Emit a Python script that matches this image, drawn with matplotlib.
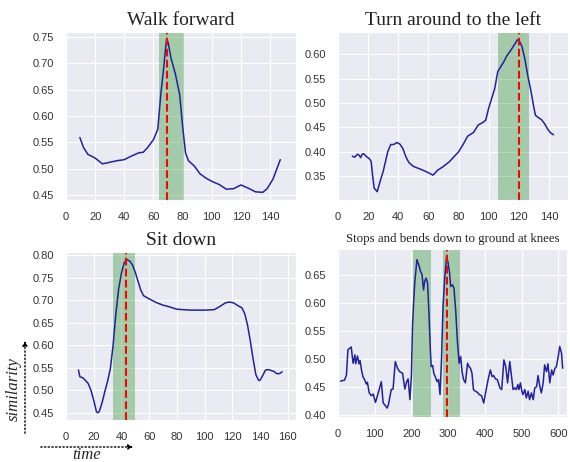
import numpy as np
import matplotlib
matplotlib.use('Agg')
from matplotlib import pyplot as plt
import seaborn as sns

# walk forward
walk_x = [9.5, 12, 15, 18, 20, 25, 30, 35, 40, 45, 50, 53, 56, 60, 63, 65, 67, 68, 69, 70,
          72, 75, 78, 80, 82, 84, 88, 92, 96, 100, 105, 110, 115, 120, 125, 130, 135, 138, 142, 147]
walk_y = [0.559, 0.540, 0.527, 0.523, 0.520, 0.509, 0.512, 0.515, 0.517, 0.524, 0.530, 0.531,
          0.540, 0.555, 0.575, 0.640, 0.690, 0.720, 0.745, 0.740, 0.710, 0.680, 0.640, 0.580,
          0.530, 0.515, 0.505, 0.490, 0.482, 0.476, 0.470, 0.461, 0.462, 0.469, 0.463, 0.456,
          0.455, 0.462, 0.480, 0.517]
walk_span = (64, 81)
walk_best = 69

# turn around to the left
turn_x = [9.5, 11, 13, 14, 15, 16, 17, 19, 21, 22, 23, 24, 25, 26, 28, 30, 33, 35, 37, 39,
          41, 43, 45, 47, 50, 55, 60, 63, 64, 66, 70, 74, 77, 80, 83, 86, 90, 93, 96, 98,
          100, 102, 104, 106, 108, 110, 112, 115, 118, 119, 120, 122, 124, 126, 128, 130,
          131, 133, 135, 137, 139, 141, 143]
turn_y = [0.391, 0.389, 0.395, 0.393, 0.388, 0.395, 0.396, 0.390, 0.385, 0.380, 0.350, 0.325,
          0.322, 0.318, 0.340, 0.360, 0.400, 0.415, 0.415, 0.419, 0.416, 0.407, 0.390, 0.378,
          0.370, 0.364, 0.357, 0.352, 0.355, 0.362, 0.370, 0.380, 0.390, 0.400, 0.415, 0.432,
          0.440, 0.455, 0.460, 0.465, 0.490, 0.510, 0.530, 0.565, 0.575, 0.585, 0.597, 0.610,
          0.625, 0.630, 0.629, 0.617, 0.590, 0.555, 0.525, 0.490, 0.475, 0.470, 0.466, 0.458,
          0.447, 0.439, 0.435]
turn_span = (106, 127)
turn_best = 120

# sit down
sit_x = [9, 10, 12, 14, 16, 18, 20, 22, 23, 24, 26, 28, 30, 32, 34, 36, 38, 40, 42, 44, 46,
         48, 50, 52, 54, 56, 60, 65, 70, 75, 80, 90, 100, 107, 111, 115, 118, 121, 124, 127,
         129, 131, 133, 135, 137, 139, 140, 142, 144, 146, 150, 152, 154, 156]
sit_y = [0.545, 0.530, 0.528, 0.522, 0.515, 0.500, 0.478, 0.452, 0.450, 0.453, 0.472, 0.497,
         0.520, 0.548, 0.600, 0.670, 0.725, 0.760, 0.783, 0.790, 0.787, 0.778, 0.762, 0.742,
         0.722, 0.710, 0.703, 0.695, 0.689, 0.685, 0.680, 0.678, 0.678, 0.679, 0.686, 0.694,
         0.696, 0.694, 0.688, 0.683, 0.670, 0.645, 0.610, 0.570, 0.535, 0.522, 0.522, 0.533,
         0.545, 0.546, 0.542, 0.537, 0.537, 0.541]
sit_span = (34, 50)
sit_best = 43

# stops and bends down
bend_x = [7, 18, 23, 27, 36, 41, 46, 48, 53, 57, 60, 64, 68, 73, 77, 80, 85, 91, 96, 102,
          107, 114, 118, 123, 127, 134, 138, 145, 150, 156, 162, 168, 176, 182, 187, 191,
          196, 200, 203, 206, 209, 215, 220, 225, 229, 233, 236, 240, 244, 247, 252, 254,
          258, 261, 265, 270, 274, 278, 282, 286, 291, 296, 300, 304, 307, 312, 316, 321,
          325, 330, 334, 338, 342, 347, 353, 357, 361, 365, 369, 374, 380, 385, 391, 397,
          402, 409, 415, 420, 424, 429, 434, 441, 446, 452, 457, 462, 468, 473, 477, 482,
          486, 490, 493, 497, 501, 504, 509, 513, 518, 522, 527, 532, 536, 541, 545, 550,
          554, 559, 563, 568, 572, 577, 582, 586, 591, 595, 600, 604, 609, 612]
bend_y = [0.460, 0.462, 0.471, 0.516, 0.521, 0.492, 0.507, 0.491, 0.505, 0.491, 0.497, 0.480,
          0.468, 0.462, 0.455, 0.458, 0.439, 0.434, 0.437, 0.422, 0.433, 0.450, 0.459, 0.421,
          0.418, 0.412, 0.420, 0.445, 0.446, 0.495, 0.483, 0.477, 0.474, 0.446, 0.459, 0.464,
          0.427, 0.470, 0.560, 0.600, 0.635, 0.677, 0.668, 0.656, 0.650, 0.623, 0.638, 0.644,
          0.635, 0.593, 0.510, 0.486, 0.488, 0.474, 0.468, 0.459, 0.463, 0.436, 0.498, 0.593,
          0.647, 0.683, 0.671, 0.653, 0.629, 0.632, 0.626, 0.582, 0.534, 0.492, 0.504, 0.477,
          0.463, 0.457, 0.492, 0.486, 0.483, 0.474, 0.445, 0.442, 0.440, 0.436, 0.434, 0.421,
          0.439, 0.463, 0.480, 0.468, 0.470, 0.464, 0.463, 0.448, 0.445, 0.498, 0.486, 0.457,
          0.495, 0.468, 0.445, 0.448, 0.445, 0.454, 0.445, 0.457, 0.442, 0.436, 0.445, 0.430,
          0.442, 0.427, 0.439, 0.427, 0.448, 0.450, 0.470, 0.450, 0.439, 0.457, 0.489, 0.477,
          0.491, 0.457, 0.480, 0.471, 0.483, 0.486, 0.504, 0.522, 0.510, 0.483]
bend_spans = [(204, 253), (286, 333)]
bend_best = 298

sns.set_style('darkgrid')
plt.rcParams['font.family'] = ['Liberation Sans', 'DejaVu Sans']

fig = plt.figure(figsize=(5.7, 4.62), dpi=100)

panels = [
    ([0.1158, 0.5671, 0.4035, 0.3636], 'Walk forward', 14, walk_x, walk_y, [walk_span], walk_best,
     (0, 157.8), (0.4405, 0.759), np.arange(0, 141, 20), np.arange(0.45, 0.751, 0.05)),
    ([0.593, 0.5671, 0.4035, 0.3636], 'Turn around to the left', 14, turn_x, turn_y, [turn_span], turn_best,
     (0, 152.6), (0.301, 0.646), np.arange(0, 141, 20), np.arange(0.35, 0.601, 0.05)),
    ([0.1158, 0.0909, 0.4035, 0.3636], 'Sit down', 14, sit_x, sit_y, [sit_span], sit_best,
     (0, 166), (0.434, 0.807), np.arange(0, 161, 20), np.arange(0.45, 0.801, 0.05)),
    ([0.593, 0.0974, 0.4018, 0.3636], 'Stops and bends down to ground at knees', 9.3, bend_x, bend_y, bend_spans, bend_best,
     (0, 624), (0.396, 0.696), np.arange(0, 601, 100), np.arange(0.40, 0.651, 0.05)),
]

for rect, title, tsize, x, y, spans, best, xl, yl, xt, yt in panels:
    ax = fig.add_axes(rect)
    for a, b in spans:
        ax.axvspan(a, b, color='green', alpha=0.3, lw=0)
    ax.plot(x, y, color='#22229c', lw=1.1)
    ax.axvline(best, color='red', ls='--', lw=1.5)
    ax.set_xlim(xl)
    ax.set_ylim(yl)
    ax.set_xticks(xt)
    ax.set_yticks(yt)
    ax.tick_params(labelsize=8, colors='#333333', pad=5)
    ax.set_title(title, fontsize=tsize, family='Liberation Serif', color='#222222', pad=5)

# axis hints at bottom left
fig.text(14/570, 1-389/462, 'similarity', rotation=90, ha='center', va='center',
         fontsize=12, family='Liberation Serif', style='italic')
fig.text(87/570, 1-455/462, 'time', ha='center', va='center',
         fontsize=12, family='Liberation Serif', style='italic')
plt.annotate('', xy=(25/570, 1-338/462), xytext=(25/570, 1-436/462), xycoords='figure fraction',
             arrowprops=dict(arrowstyle='-|>', ls=':', color='black', lw=1, mutation_scale=7))
plt.annotate('', xy=(136/570, 1-447/462), xytext=(38/570, 1-447/462), xycoords='figure fraction',
             arrowprops=dict(arrowstyle='-|>', ls=':', color='black', lw=1, mutation_scale=7))

plt.savefig('out.png', dpi=100)
